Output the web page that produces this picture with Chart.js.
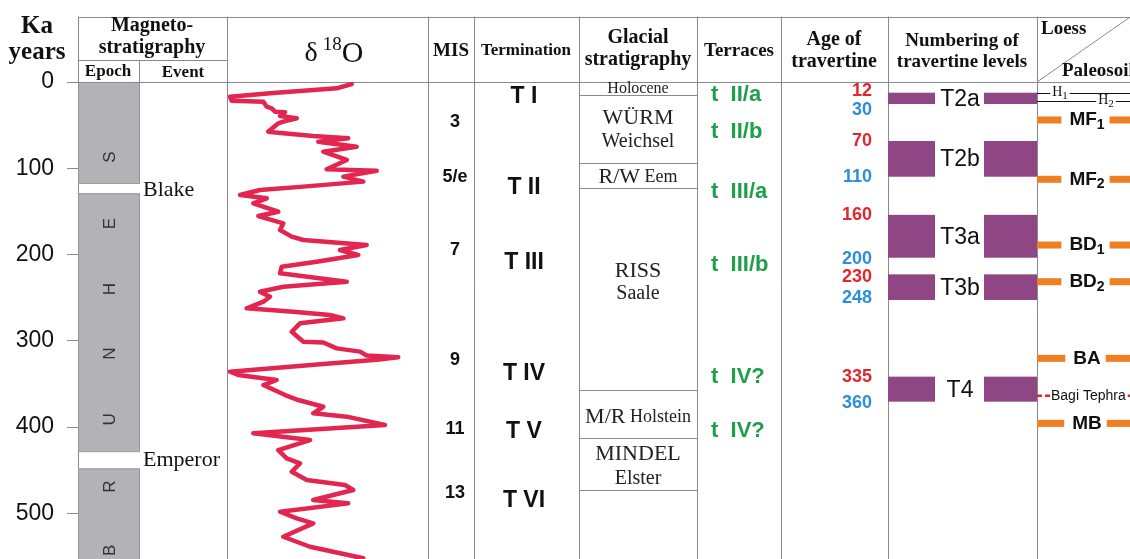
<!DOCTYPE html>
<html><head><meta charset="utf-8">
<script src="https://cdn.jsdelivr.net/npm/chart.js@4/dist/chart.umd.min.js"></script>
<style>html,body{margin:0;padding:0;background:#fff;overflow:hidden}canvas{display:block}</style>
</head><body>
<canvas id="c" width="1130" height="559"></canvas>
<script>
// ---- δ18O record (age in ka, relative position 0–100 across the δ18O panel) ----
const d18oAge = [2.3,7.3,13.1,17.0,21.7,22.8,28.6,30.5,34.4,35.0,39.4,42.0,46.0,47.9,57.6,59.5,62.6,65.3,69.2,75.0,80.8,90.4,101.2,102.8,109.7,115.5,121.3,125.2,131.0,134.8,140.6,150.4,155.4,163.8,171.6,179.3,183.2,188.9,194.8,200.6,208.3,214.1,221.8,231.5,237.3,243.1,248.9,254.7,262.4,266.3,270.1,274.0,279.8,289.5,301.1,302.0,308.8,312.6,317.0,319.0,322.0,327.1,335.9,339.7,345.5,351.3,362.9,368.7,376.5,384.1,388.0,397.7,407.3,415.1,426.7,436.3,442.1,451.8,461.4,467.2,473.0,484.6,488.5,498.2,505.9,511.7,527.2,538.8,552.2];
const d18oVal = [62.0,54.6,21.4,1.5,2.3,18.1,19.8,22.2,23.9,28.9,26.4,34.7,28.0,25.5,20.5,28.0,42.9,60.3,45.4,64.5,47.9,59.6,49.6,74.5,57.9,67.8,38.0,16.4,6.5,19.8,13.1,25.5,15.6,28.0,26.4,32.2,38.0,69.5,56.2,65.3,44.6,27.2,26.4,59.6,28.0,16.4,21.4,18.1,9.8,33.0,51.2,57.9,36.3,32.2,38.0,47.9,54.6,66.2,69.5,85.2,74.5,46.3,1.5,5.6,24.7,18.1,28.9,35.5,47.9,42.9,59.6,78.6,13.1,41.3,25.5,29.7,36.3,32.2,39.7,58.7,62.8,42.9,60.3,26.4,34.7,42.9,28.0,41.3,67.8];

// ---- Magnetostratigraphy ----
const epochSegments = [[0,117],[129,428],[448,553]];
const epochLetters = ['S','E','H','N','U','R','B'];
const epochLetterAge = [87,164,240,315,391,469,543];
const eventNames = ['Blake','Emperor'];
const eventAge = [125,438];

// ---- MIS & Terminations ----
const misLabels = ['3','5/e','7','9','11','13'];
const misAge = [46,110,195,322,402,477];
const terminationLabels = ['T I','T II','T III','T IV','T V','T VI'];
const terminationAge = [17,123,210,338,405,485];

// ---- Glacial stratigraphy ----
const glacialBounds = [15,93.5,122.5,357,413,473];
const glacialMain = ['Holocene','WÜRM','Weichsel','R/W','RISS','Saale','M/R','MINDEL','Elster'];
const glacialSub = ['','','','Eem','','','Holstein','',''];
const glacialAge = [8,42,69,110,219,246,389,432,459.5];

// ---- Terraces ----
const terraceLabels = ['t  II/a','t  II/b','t  III/a','t  III/b','t  IV?','t  IV?'];
const terraceAge = [15,57.6,127,212,341.6,405];

// ---- Age of travertine ----
const travAges = ['12','30','70','110','160','200','230','248','335','360'];
const travAgePos = [11,32.4,69,110.5,154,205,225.6,251,341.6,371.7];
const travAgeGroup = ['r','b','r','b','r','b','r','b','r','b'];

// ---- Travertine levels ----
const travLevelNames = ['T2a','T2b','T3a','T3b','T4'];
const travLevelTop = [12.4,68.4,154,223,341.6];
const travLevelBottom = [25.5,109.8,203.7,252.7,370.6];

// ---- Loess / Paleosol ----
const loessHorizons = ['H1','H2'];
const loessHorizonAge = [12.2,22.4];
const paleosols = ['MF1','MF2','BD1','BD2','BA','MB'];
const paleosolAge = [44,112.8,189,231.5,320.4,395.8];
const tephraName = 'Bagi Tephra';
const tephraAge = 363.7;

const SERIF = '"Liberation Serif", "Times New Roman", serif';
const SANS = '"Liberation Sans", Arial, sans-serif';

function richText(ctx, parts, x, y, align){
  let w = 0;
  parts.forEach(p => { ctx.font = p[1]; w += ctx.measureText(p[0]).width; });
  let cx = align === 'center' ? x - w/2 : (align === 'right' ? x - w : x);
  const start = cx;
  ctx.textAlign = 'left';
  parts.forEach(p => { ctx.font = p[1]; ctx.fillText(p[0], cx, y + (p[2]||0)); cx += ctx.measureText(p[0]).width; });
  return [start, start + w];
}

const stratPlugin = {
  id: 'strat',
  beforeDatasetsDraw(chart){
    const ctx = chart.ctx;
    const X = v => chart.scales.x.getPixelForValue(v);
    const Y = v => chart.scales.y.getPixelForValue(v);
    const bottom = chart.height;
    ctx.save();
    epochSegments.forEach(s => {
      const y0 = Y(s[0]), y1 = Y(s[1]);
      ctx.fillStyle = '#b2b2b7';
      ctx.fillRect(X(78), y0, X(139) - X(78), y1 - y0);
      ctx.strokeStyle = '#96969b'; ctx.lineWidth = 1;
      ctx.strokeRect(X(78) + 0.5, y0 + 0.5, X(139) - X(78), y1 - y0);
    });
    ctx.strokeStyle = '#8a8a8a'; ctx.lineWidth = 1;
    const vline = (x, a, b) => { ctx.beginPath(); ctx.moveTo(Math.round(x) + 0.5, a); ctx.lineTo(Math.round(x) + 0.5, b); ctx.stroke(); };
    const hline = (a, b, y) => { ctx.beginPath(); ctx.moveTo(a, Math.round(y) + 0.5); ctx.lineTo(b, Math.round(y) + 0.5); ctx.stroke(); };
    hline(X(78), X(1130), 16.5);
    hline(67, X(1130), 81.5);
    hline(X(78), X(227), 60);
    [227,428,474,579,697,781,888,1037].forEach(x => vline(X(x), 16.5, bottom));
    vline(X(78), 16.5, 82);
    vline(X(139), 60, 82);
    glacialBounds.forEach(a => hline(X(579), X(697), Y(a)));
    ctx.beginPath(); ctx.moveTo(X(1037), 82); ctx.lineTo(X(1133), 15); ctx.stroke();
    ctx.fillStyle = '#8f4684';
    travLevelNames.forEach((n, i) => {
      const y0 = Y(travLevelTop[i]), y1 = Y(travLevelBottom[i]);
      ctx.fillRect(X(888), y0, X(935) - X(888), y1 - y0);
      ctx.fillRect(X(984), y0, X(1037) - X(984), y1 - y0);
    });
    ctx.restore();
  },
  afterDraw(chart){
    const ctx = chart.ctx;
    const X = v => chart.scales.x.getPixelForValue(v);
    const Y = v => chart.scales.y.getPixelForValue(v);
    ctx.save();
    ctx.textBaseline = 'middle';
    ctx.fillStyle = '#111';
    const c = (t, x, y, font) => { ctx.font = font; ctx.textAlign = 'center'; ctx.fillText(t, x, y); };
    c('Ka', 37, 27, 'bold 25px ' + SERIF);
    c('years', 37, 53, 'bold 25px ' + SERIF);
    c('Magneto-', X(152), 26, 'bold 20px ' + SERIF);
    c('stratigraphy', X(152), 48, 'bold 20px ' + SERIF);
    c('Epoch', X(108), 72, 'bold 17px ' + SERIF);
    c('Event', X(183), 73, 'bold 17px ' + SERIF);
    richText(ctx, [['δ', '28px ' + SERIF, 0], [' ', '20px ' + SERIF, 0], ['18', '19px ' + SERIF, -9], ['O', '30px ' + SERIF, 0]], X(334), 54, 'center');
    c('MIS', X(451), 51, 'bold 19px ' + SERIF);
    c('Termination', X(526), 51, 'bold 17px ' + SERIF);
    c('Glacial', X(638), 38, 'bold 20px ' + SERIF);
    c('stratigraphy', X(638), 60, 'bold 20px ' + SERIF);
    c('Terraces', X(739), 51, 'bold 19px ' + SERIF);
    c('Age of', X(834), 40, 'bold 20px ' + SERIF);
    c('travertine', X(834), 62, 'bold 20px ' + SERIF);
    c('Numbering of', X(962), 41, 'bold 19px ' + SERIF);
    c('travertine levels', X(962), 62, 'bold 19px ' + SERIF);
    ctx.textAlign = 'left'; ctx.font = 'bold 19px ' + SERIF;
    ctx.fillText('Loess', X(1041), 29);
    ctx.fillText('Paleosoil', X(1062), 71);

    ctx.fillStyle = '#333';
    ctx.font = '17px ' + SANS;
    epochLetters.forEach((l, i) => {
      ctx.save(); ctx.translate(X(110), Y(epochLetterAge[i])); ctx.rotate(-Math.PI/2);
      ctx.textAlign = 'center'; ctx.fillText(l, 0, 0); ctx.restore();
    });
    ctx.fillStyle = '#111';
    ctx.font = '22px ' + SERIF; ctx.textAlign = 'left';
    eventNames.forEach((e, i) => ctx.fillText(e, X(143), Y(eventAge[i])));
    ctx.font = 'bold 18px ' + SANS; ctx.textAlign = 'center';
    misLabels.forEach((m, i) => ctx.fillText(m, X(455), Y(misAge[i])));
    ctx.font = 'bold 23px ' + SANS;
    terminationLabels.forEach((t, i) => ctx.fillText(t, X(524), Y(terminationAge[i])));
    ctx.fillStyle = '#222';
    glacialMain.forEach((g, i) => {
      let size = 22;
      if (g === 'Holocene') size = 16;
      if (['Weichsel','Saale','Elster'].includes(g)) size = 20;
      const parts = [[g, size + 'px ' + SERIF, 0]];
      if (glacialSub[i]) parts.push([' ' + glacialSub[i], '18px ' + SERIF, 0]);
      richText(ctx, parts, X(638), Y(glacialAge[i]), 'center');
    });
    ctx.fillStyle = '#1f9e4b';
    ctx.font = 'bold 22px ' + SANS; ctx.textAlign = 'left';
    terraceLabels.forEach((t, i) => ctx.fillText(t, X(711), Y(terraceAge[i])));
    ctx.font = 'bold 18px ' + SANS; ctx.textAlign = 'right';
    travAges.forEach((a, i) => {
      ctx.fillStyle = travAgeGroup[i] === 'r' ? '#e3262b' : '#2b8fd9';
      ctx.fillText(a, X(872), Y(travAgePos[i]));
    });
    ctx.fillStyle = '#111';
    ctx.font = '23px ' + SANS; ctx.textAlign = 'center';
    travLevelNames.forEach((n, i) => ctx.fillText(n, X(960), (Y(travLevelTop[i]) + Y(travLevelBottom[i])) / 2 + 1));

    ctx.strokeStyle = '#111'; ctx.lineWidth = 1;
    const hx = [1060, 1106];
    loessHorizons.forEach((h, i) => {
      const y = Math.round(Y(loessHorizonAge[i])) + 0.5;
      const m = h.match(/^([A-Z]+)(\d?)$/);
      ctx.fillStyle = '#111';
      const ext = richText(ctx, [[m[1], '14px ' + SERIF, -1], [m[2], '11px ' + SERIF, 3]], X(hx[i]), y, 'center');
      ctx.beginPath(); ctx.moveTo(X(1037), y); ctx.lineTo(ext[0] - 2, y); ctx.moveTo(ext[1] + 2, y); ctx.lineTo(X(1130), y); ctx.stroke();
    });
    paleosols.forEach((p, i) => {
      const y = Y(paleosolAge[i]);
      const m = p.match(/^([A-Z]+)(\d?)$/);
      ctx.fillStyle = '#111';
      const parts = [[m[1], 'bold 19px ' + SANS, 0]];
      if (m[2]) parts.push([m[2], 'bold 14px ' + SANS, 5]);
      const ext = richText(ctx, parts, X(1087), y, 'center');
      ctx.fillStyle = '#f07f22';
      ctx.fillRect(X(1037), y - 3.5, ext[0] - 8 - X(1037), 7);
      ctx.fillRect(ext[1] + 5, y - 3.5, X(1130) - ext[1] - 5, 7);
    });
    const ty = Y(tephraAge);
    ctx.fillStyle = '#111';
    const te = richText(ctx, [[tephraName, '14px ' + SANS, 0]], X(1051), ty, 'left');
    ctx.strokeStyle = '#e3262b'; ctx.lineWidth = 2.5; ctx.setLineDash([5, 3]);
    ctx.beginPath(); ctx.moveTo(X(1037), ty); ctx.lineTo(te[0] - 1, ty); ctx.moveTo(te[1] + 2, ty); ctx.lineTo(X(1130), ty); ctx.stroke();
    ctx.setLineDash([]);
    ctx.restore();
  }
};

new Chart(document.getElementById('c'), {
  type: 'scatter',
  data: {
    datasets: [{
      label: 'δ18O',
      data: d18oAge.map((a, i) => ({ x: d18oVal[i], y: a })),
      xAxisID: 'xd', yAxisID: 'y',
      showLine: true,
      borderColor: '#e2264f',
      borderWidth: 4.5,
      borderJoinStyle: 'round',
      borderCapStyle: 'round',
      pointRadius: 0,
      tension: 0
    }]
  },
  options: {
    responsive: false,
    animation: false,
    devicePixelRatio: 1,
    layout: { padding: { top: 82, left: 0, right: 0, bottom: 0 } },
    plugins: { legend: { display: false }, tooltip: { enabled: false } },
    scales: {
      x: { type: 'linear', min: 78, max: 1130, display: false },
      xd: { type: 'linear', axis: 'x', min: -74.129, max: 449.254, display: false },
      y: {
        type: 'linear', reverse: true, min: 0, max: 553,
        afterFit(s) { s.width = 78; s.paddingTop = 0; s.paddingBottom = 0; },
        ticks: { stepSize: 100, includeBounds: false, padding: 13, color: '#111', font: { family: 'Liberation Sans', size: 23 } },
        grid: { drawOnChartArea: false, drawTicks: true, tickLength: 11, color: '#8a8a8a' },
        border: { display: true, color: '#8a8a8a' }
      }
    }
  },
  plugins: [stratPlugin]
});
</script>
</body></html>
